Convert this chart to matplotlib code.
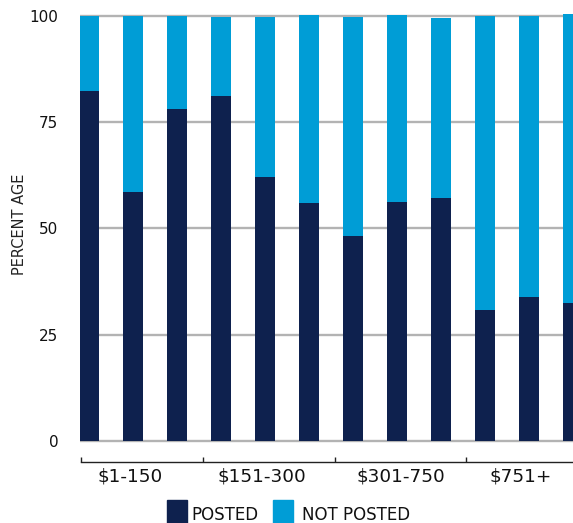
#!/usr/bin/env python3
"""Posted vs not posted share by price band (100% stacked bars)."""

import matplotlib.pyplot as plt
import numpy as np
from matplotlib.patches import Rectangle

W, H = 573, 523

NAVY = "#0E214E"
BLUE = "#009DD6"
GRID = "#B3B3B3"
AXIS = "#222222"

groups = ["$1-150", "$151-300", "$301-750", "$751+"]
posted = [82.4, 58.6, 78.1, 81.2, 62.1, 56.0, 48.2, 56.2, 57.2, 30.8, 33.9, 32.5]
not_posted = [17.6, 41.4, 21.9, 18.6, 37.7, 44.2, 51.6, 44.0, 42.3, 69.2, 66.1, 68.0]
y_ticks = [0, 25, 50, 75, 100]


def px_x(v):
    return v / W


def px_y(v):
    return 1 - v / H


def main():
    plt.rcParams["font.family"] = ["DejaVu Sans"]
    fig = plt.figure(figsize=(W / 100, H / 100), dpi=100)
    # 4.25 px per percent; y=0 sits at pixel row 441
    ax = fig.add_axes([px_x(80), px_y(443.5), 493 / W, 436 / H])

    x = np.arange(len(posted))
    width = 20 / 44
    ax.bar(x, posted, width=width, color=NAVY, zorder=2, label="POSTED")
    ax.bar(x, not_posted, bottom=posted, width=width, color=BLUE, zorder=2,
           label="NOT POSTED")

    ax.set_xlim(-9 / 44, 484 / 44)
    ax.set_ylim(-0.6, 102)
    ax.set_yticks(y_ticks)
    ax.grid(axis="y", color=GRID, linewidth=1.7, zorder=0)
    ax.set_axisbelow(True)
    for side in ("top", "right", "left"):
        ax.spines[side].set_visible(False)
    ax.tick_params(axis="y", length=0, pad=15.5, labelsize=11, labelcolor="#111111")

    # grouped category axis below the plot
    ax.spines["bottom"].set_position(("outward", 13.1))
    ax.spines["bottom"].set_bounds(-0.19, 11.0)
    ax.spines["bottom"].set_color(AXIS)
    ax.spines["bottom"].set_linewidth(1.0)
    ax.set_xticks([-0.19, 2.6, 5.6, 8.56])
    ax.set_xticklabels([])
    ax.tick_params(axis="x", which="major", direction="in", length=3.6,
                   width=1.0, color=AXIS)
    ax.set_xticks([0.93, 3.93, 7.09, 9.80], minor=True)
    ax.set_xticklabels(groups, minor=True)
    ax.tick_params(axis="x", which="minor", length=0, pad=4, labelsize=13.2,
                   labelcolor="#111111")

    fig.text(px_x(19.5), px_y(224), "PERCENT AGE", rotation=90, ha="center",
             va="center", fontsize=10.5, color="#222222")

    # legend, cut off by the bottom edge as in the source
    fig.add_artist(Rectangle((px_x(167.3), 0), 19.4 / W, 23 / H,
                             transform=fig.transFigure, color=NAVY))
    fig.text(px_x(191.7), px_y(520.3), "POSTED", va="baseline", fontsize=12,
             color="#111111")
    fig.add_artist(Rectangle((px_x(273.3), 0), 19.7 / W, 23 / H,
                             transform=fig.transFigure, color=BLUE))
    fig.text(px_x(302), px_y(520.3), "NOT POSTED", va="baseline", fontsize=12,
             color="#111111")

    fig.savefig("out.png", dpi=100)
    plt.close(fig)


if __name__ == "__main__":
    main()
